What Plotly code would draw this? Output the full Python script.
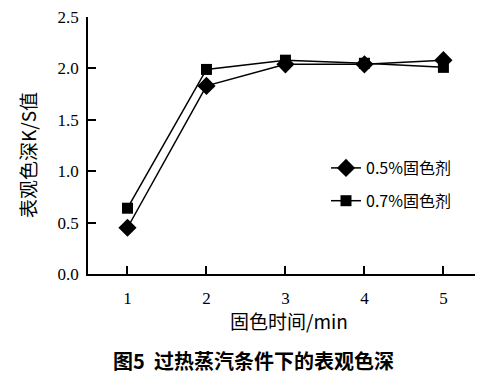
import plotly.graph_objects as go

times = [1, 2, 3, 4, 5]
ks_05 = [0.45, 1.83, 2.04, 2.04, 2.08]
ks_07 = [0.64, 1.99, 2.08, 2.05, 2.01]
series_names = ["0.5%固色剂", "0.7%固色剂"]
y_ticks = [0.0, 0.5, 1.0, 1.5, 2.0, 2.5]
y_ticklabels = ["0.0", "0.5", "1.0", "1.5", "2.0", "2.5"]
x_title = "固色时间/min"
y_title = "表观色深K/S值"
caption = "图5  过热蒸汽条件下的表观色深"

num_font = "Liberation Serif, DejaVu Serif, serif"
cjk_font = "Noto Sans CJK SC"

fig = go.Figure()
fig.add_trace(go.Scatter(
    x=times, y=ks_05, name=series_names[0], mode="lines+markers",
    line=dict(color="black", width=1.5),
    marker=dict(symbol="diamond", size=14, color="black"),
    legendgroup="a",
))
fig.add_trace(go.Scatter(
    x=times, y=ks_07, name=series_names[1], mode="lines+markers",
    line=dict(color="black", width=1.5),
    marker=dict(symbol="square", size=11, color="black"),
    legendgroup="b",
))

L, R, T, B = 88, 4, 17, 109
W, H = 479, 383
pw = W - L - R
ph = H - T - B

def px(xp):
    return (xp - L) / pw

def py(yp):
    return (H - B - yp) / ph

fig.update_layout(
    width=W, height=H,
    margin=dict(l=L, r=R, t=T, b=B, autoexpand=False),
    paper_bgcolor="white", plot_bgcolor="white",
    showlegend=True,
    legend=dict(
        x=px(326), y=py(151), xanchor="left", yanchor="top",
        font=dict(family=cjk_font, size=16, color="black"),
        bgcolor="rgba(0,0,0,0)", borderwidth=0,
        traceorder="grouped", tracegroupgap=9,
    ),
    xaxis=dict(
        range=[0.5, 5.4], tickmode="array", tickvals=times,
        ticktext=[str(t) for t in times],
        showline=True, linecolor="black", linewidth=1.5,
        ticks="inside", ticklen=8, tickwidth=1.5, tickcolor="black",
        showgrid=False, zeroline=False, automargin=False,
        tickfont=dict(family=num_font, size=17, color="black"),
        ticklabelstandoff=8,
    ),
    yaxis=dict(
        range=[0, 2.5], tickmode="array", tickvals=y_ticks,
        ticktext=y_ticklabels,
        showline=True, linecolor="black", linewidth=1.5,
        ticks="inside", ticklen=8, tickwidth=1.5, tickcolor="black",
        showgrid=False, zeroline=False, automargin=False,
        tickfont=dict(family=num_font, size=17, color="black"),
        ticklabelstandoff=4,
    ),
    annotations=[
        dict(text=x_title, xref="paper", yref="paper", x=px(289), y=py(320),
             showarrow=False, xanchor="center", yanchor="middle",
             font=dict(family=cjk_font, size=19, color="black")),
        dict(text=y_title, xref="paper", yref="paper", x=px(27), y=py(155),
             showarrow=False, xanchor="center", yanchor="middle", textangle=-90,
             font=dict(family=cjk_font, size=19, color="black")),
        dict(text="<b>" + caption + "</b>", xref="paper", yref="paper", x=px(253), y=py(360),
             showarrow=False, xanchor="center", yanchor="middle",
             font=dict(family=cjk_font, size=20, color="black")),
    ],
)

fig.write_html(
    "out.html",
    config={"displayModeBar": False},
    post_script="document.body.style.margin='0';document.body.style.overflow='hidden';",
)
